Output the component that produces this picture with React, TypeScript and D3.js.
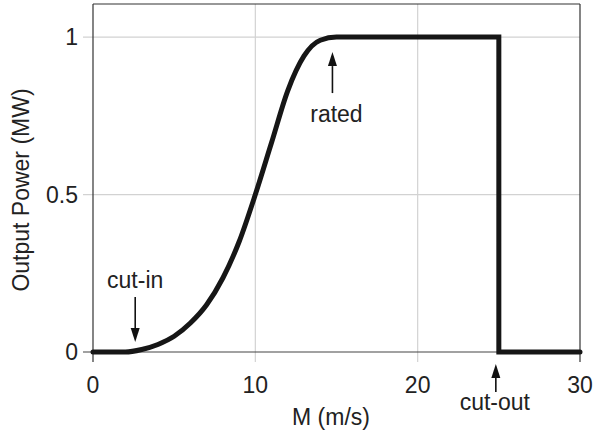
import React from "react";
import * as d3 from "d3";

const windSpeed = [0, 2, 3, 4, 5, 6, 7, 8, 9, 10, 11, 12, 13, 14, 15, 25];
const power = [0, 0, 0.008, 0.024, 0.05, 0.092, 0.15, 0.235, 0.35, 0.5, 0.665, 0.83, 0.94, 0.99, 1, 1];
const cutoutSpeed = [25, 25, 30];
const cutoutPower = [1, 0, 0];
const xTicks = [0, 10, 20, 30];
const yTicks = [0, 0.5, 1];
const yTickLabels = ["0", "0.5", "1"];
const annotationLabels = ["cut-in", "rated", "cut-out"];
const annotationSpeeds = [2.6, 14.75, 25];

const W = 599;
const H = 432;
const M = { top: 4, right: 19, bottom: 80, left: 93 };
const FONT = "'Liberation Sans', Arial, Helvetica, sans-serif";
const FS = 23;

export default function App() {
  const x = d3.scaleLinear().domain([0, 30]).range([M.left, W - M.right]);
  const y = d3.scaleLinear().domain([0, 1.105]).range([H - M.bottom, M.top]);

  const curve = d3
    .line<number>()
    .x((_, i) => x(windSpeed[i]))
    .y((d) => y(d))
    .curve(d3.curveMonotoneX);
  const lin = d3
    .line<number>()
    .x((_, i) => x(cutoutSpeed[i]))
    .y((d) => y(d));
  const pathD = (curve(power) || "") + (lin(cutoutPower) || "").replace(/^M/, "L");

  const x0 = x(0), x1 = x(30), yb = y(0), yt = M.top;
  const tick = 10;
  const txt = "#222";

  const arrow = (xx: number, tipY: number, tailY: number, key: string) => {
    const dir = tipY > tailY ? 1 : -1;
    const headLen = 14, headW = 4.5;
    const baseY = tipY - dir * headLen;
    return (
      <g key={key}>
        <line x1={xx} y1={tailY} x2={xx} y2={baseY} stroke="#111" strokeWidth={1.6} />
        <path d={`M${xx},${tipY}L${xx - headW},${baseY}L${xx + headW},${baseY}Z`} fill="#111" />
      </g>
    );
  };

  return (
    <svg width={W} height={H} style={{ position: "absolute", left: 0, top: 0, background: "#fff" }} fontFamily={FONT}>
      {/* grid */}
      {xTicks.filter((t) => t > 0 && t < 30).map((t) => (
        <line key={"gx" + t} x1={x(t)} x2={x(t)} y1={yt} y2={yb + tick} stroke="#d2d2d2" strokeWidth={1.2} />
      ))}
      {yTicks.filter((t) => t > 0).map((t) => (
        <line key={"gy" + t} x1={x0 - tick} x2={x1} y1={y(t)} y2={y(t)} stroke="#d2d2d2" strokeWidth={1.2} />
      ))}
      {/* box */}
      <line x1={x0} x2={x1} y1={yt} y2={yt} stroke="#333" strokeWidth={1.2} />
      <line x1={x0} x2={x0} y1={yt} y2={yb + tick} stroke="#333" strokeWidth={1.2} />
      <line x1={x1} x2={x1} y1={yt} y2={yb + tick} stroke="#333" strokeWidth={1.2} />
      <line x1={x0 - tick} x2={x1} y1={yb} y2={yb} stroke="#444" strokeWidth={1.2} />

      {/* tick labels */}
      {xTicks.map((t) => (
        <text key={"xt" + t} x={x(t)} y={yb + 41} textAnchor="middle" fontSize={FS} fill={txt}>
          {t}
        </text>
      ))}
      {yTicks.map((t, i) => (
        <text key={"yt" + t} x={x0 - 15} y={y(t) + 8} textAnchor="end" fontSize={FS} fill={txt}>
          {yTickLabels[i]}
        </text>
      ))}

      {/* axis titles */}
      <text x={331} y={425} textAnchor="middle" fontSize={FS} fill={txt}>M (m/s)</text>
      <text transform={`translate(29,190) rotate(-90)`} textAnchor="middle" fontSize={FS} fill={txt}>
        Output Power (MW)
      </text>

      {/* power curve */}
      <path d={pathD} fill="none" stroke="#161616" strokeWidth={5} strokeLinejoin="miter" strokeLinecap="round" />

      {/* annotations */}
      {arrow(x(annotationSpeeds[0]), yb - 10, yb - 55, "a0")}
      <text x={x(annotationSpeeds[0])} y={yb - 64} textAnchor="middle" fontSize={FS} fill={txt}>{annotationLabels[0]}</text>
      {arrow(x(annotationSpeeds[1]), y(1) + 15, y(1) + 56, "a1")}
      <text x={x(annotationSpeeds[1]) + 4} y={y(1) + 85} textAnchor="middle" fontSize={FS} fill={txt}>{annotationLabels[1]}</text>
      {arrow(x(annotationSpeeds[2]) - 3, yb + 12, yb + 40, "a2")}
      <text x={x(annotationSpeeds[2]) - 4} y={yb + 58} textAnchor="middle" fontSize={FS} fill={txt}>{annotationLabels[2]}</text>
    </svg>
  );
}
